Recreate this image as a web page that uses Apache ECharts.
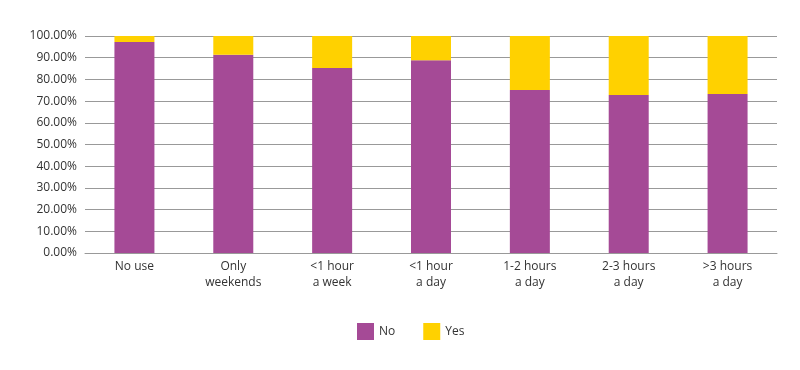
<!DOCTYPE html>
<html><head><meta charset="utf-8">
<script src="https://cdn.jsdelivr.net/npm/echarts@6/dist/echarts.min.js"></script>
<style>html,body{margin:0;padding:0;background:#fff}#c{width:800px;height:370px}</style>
</head><body><div id="c"></div>
<script>
const categories = ['No use', 'Only\nweekends', '<1 hour\na week', '<1 hour\na day', '1-2 hours\na day', '2-3 hours\na day', '>3 hours\na day'];
const noValues = [97.2, 91.4, 85.3, 88.8, 75.1, 72.8, 73.3];
const yesValues = [2.8, 8.6, 14.7, 11.2, 24.9, 27.2, 26.7];
const seriesNames = ['No', 'Yes'];

const chart = echarts.init(document.getElementById('c'));
const font = '"Open Sans", "Noto Sans", sans-serif';
chart.setOption({
  animation: false,
  textStyle: { fontFamily: font },
  grid: { left: 85, right: 23, top: 36, bottom: 117 },
  legend: {
    data: seriesNames,
    top: 318, left: 352,
    itemWidth: 17, itemHeight: 17, itemGap: 28,
    icon: 'rect',
    textStyle: { fontSize: 12, color: '#333', fontFamily: font }
  },
  xAxis: {
    type: 'category', data: categories,
    axisLine: { lineStyle: { color: '#999' } },
    axisTick: { show: false },
    axisLabel: { color: '#333', fontSize: 12, lineHeight: 16, margin: 6, interval: 0, fontFamily: font }
  },
  yAxis: {
    type: 'value', min: 0, max: 100, interval: 10,
    axisLine: { show: false }, axisTick: { show: false },
    splitLine: { lineStyle: { color: '#999' } },
    axisLabel: { color: '#333', fontSize: 12, margin: 8, fontFamily: font, formatter: v => v.toFixed(2) + '%' }
  },
  series: [
    { name: 'No', type: 'bar', stack: 's', data: noValues, barWidth: 40, itemStyle: { color: '#A54A96' } },
    { name: 'Yes', type: 'bar', stack: 's', data: yesValues, barWidth: 40, itemStyle: { color: '#FFD100' } }
  ]
});
</script></body></html>
